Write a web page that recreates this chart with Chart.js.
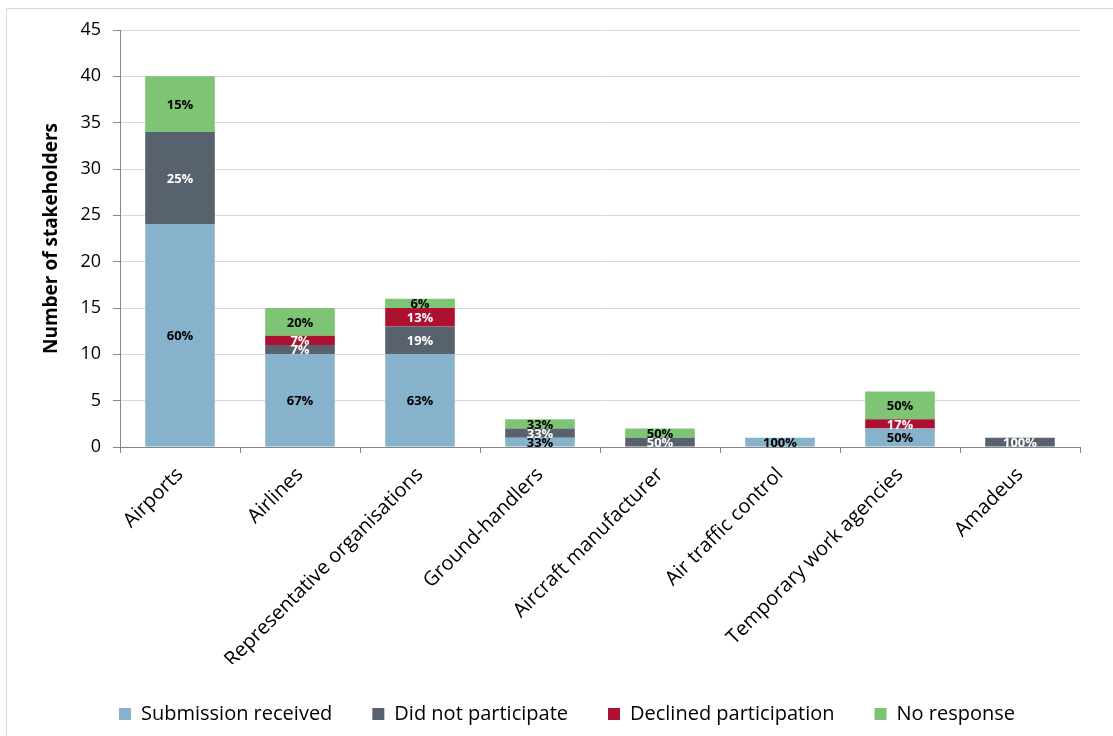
<!DOCTYPE html>
<html>
<head>
<meta charset="utf-8">
<script src="https://cdn.jsdelivr.net/npm/chart.js@4"></script>
<style>
  body { margin: 0; background: #fff; overflow: hidden; }
  #wrap { position: relative; width: 1113px; height: 736px; }
  #frame { position: absolute; left: 6px; top: 8px; width: 1200px; height: 800px; border: 1px solid #d9d9d9; }
  #chart { position: absolute; left: 0; top: 0; }
</style>
</head>
<body>
<div id="wrap">
  <div id="frame"></div>
  <canvas id="chart" width="1113" height="736"></canvas>
</div>
<script>
// stakeholder groups and counts per response type
const categories = ['Airports', 'Airlines', 'Representative organisations', 'Ground-handlers',
  'Aircraft manufacturer', 'Air traffic control', 'Temporary work agencies', 'Amadeus'];
const submission = [24, 10, 10, 1, 0, 1, 2, 0];
const didNot     = [10, 1, 3, 1, 1, 0, 0, 1];
const declined   = [0, 1, 2, 0, 0, 0, 1, 0];
const noResponse = [6, 3, 1, 1, 1, 0, 3, 0];

// share labels printed inside each segment
const submissionPct = ['60%', '67%', '63%', '33%', '', '100%', '50%', ''];
const didNotPct     = ['25%', '7%', '19%', '33%', '50%', '', '', '100%'];
const declinedPct   = ['', '7%', '13%', '', '', '', '17%', ''];
const noResponsePct = ['15%', '20%', '6%', '33%', '50%', '', '50%', ''];

const yTicks = [0, 5, 10, 15, 20, 25, 30, 35, 40, 45];

const FONT = "'Open Sans', sans-serif";

const segmentLabels = {
    id: 'segmentLabels',
    afterDatasetsDraw(chart) {
        const ctx = chart.ctx;
        ctx.save();
        ctx.font = 'bold 13px ' + FONT;
        ctx.textAlign = 'center';
        ctx.textBaseline = 'middle';
        chart.data.datasets.forEach((ds, i) => {
            const meta = chart.getDatasetMeta(i);
            meta.data.forEach((bar, j) => {
                const txt = ds.pctLabels[j];
                if (!txt || !ds.data[j]) return;
                ctx.fillStyle = ds.labelColor;
                ctx.fillText(txt, bar.x, (bar.y + bar.base) / 2 + 1);
            });
        });
        ctx.restore();
    }
};

// nudge the legend row so it sits a bit right of the canvas centre
const legendShift = {
    id: 'legendShift',
    beforeDraw(chart) {
        if (chart.legend) chart.legend.left = 54;
    }
};

const series = [
    { label: 'Submission received',    data: submission, pctLabels: submissionPct, backgroundColor: '#87b2cc', labelColor: '#000' },
    { label: 'Did not participate',    data: didNot,     pctLabels: didNotPct,     backgroundColor: '#58626e', labelColor: '#fff' },
    { label: 'Declined participation', data: declined,   pctLabels: declinedPct,   backgroundColor: '#ad1031', labelColor: '#fff' },
    { label: 'No response',            data: noResponse, pctLabels: noResponsePct, backgroundColor: '#7dc474', labelColor: '#000' }
];

new Chart(document.getElementById('chart'), {
    type: 'bar',
    data: {
        labels: categories,
        datasets: series.map(s => Object.assign({ borderWidth: 0, barPercentage: 0.58, categoryPercentage: 1 }, s))
    },
    plugins: [segmentLabels, legendShift],
    options: {
        responsive: false,
        animation: false,
        devicePixelRatio: 1,
        layout: { padding: { left: 0, right: 33, top: 30, bottom: 2 } },
        plugins: {
            tooltip: { enabled: false },
            legend: {
                position: 'bottom',
                labels: {
                    boxWidth: 12, boxHeight: 12, padding: 40, color: '#000',
                    font: { family: FONT, size: 20 }
                }
            }
        },
        scales: {
            x: {
                stacked: true,
                afterFit(scale) { scale.height = 217; },
                grid: { drawOnChartArea: false, offset: true, tickLength: 6, color: '#868686' },
                border: { color: '#868686' },
                ticks: {
                    color: '#000', minRotation: 45, maxRotation: 45, padding: 10,
                    font: { family: FONT, size: 20 }
                }
            },
            y: {
                stacked: true,
                min: 0, max: 45,
                afterFit(scale) { scale.width = 120; },
                afterBuildTicks(scale) { scale.ticks = yTicks.map(v => ({ value: v })); },
                grid: { color: '#d9d9d9', tickColor: '#868686', tickLength: 7 },
                border: { color: '#868686' },
                ticks: { color: '#000', padding: 12, font: { family: FONT, size: 18 } },
                title: {
                    display: true, text: 'Number of stakeholders', color: '#000',
                    padding: { top: 40, bottom: 0 },
                    font: { family: FONT, size: 19, weight: 'bold' }
                }
            }
        }
    }
});
</script>
</body>
</html>
